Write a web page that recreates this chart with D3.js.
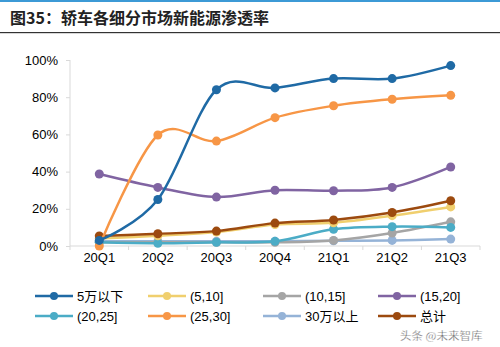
<!DOCTYPE html>
<html><head><meta charset="utf-8">
<script src="https://cdn.jsdelivr.net/npm/d3@7"></script>
<style>body{margin:0;background:#fff}svg{display:block}</style>
</head><body>
<svg id="c" width="500" height="347"></svg>
<script>
const categories = ["20Q1","20Q2","20Q3","20Q4","21Q1","21Q2","21Q3"];
const seriesNames = ["5万以下","(5,10]","(10,15]","(15,20]","(20,25]","(25,30]","30万以上","总计"];
const s_5below = [3, 25, 84, 85, 90, 90, 97];
const s_5_10   = [4, 5.5, 7.5, 11.5, 12.5, 16.3, 21];
const s_10_15  = [2, 2, 2, 2, 3, 7, 13];
const s_15_20  = [38.7, 31.5, 26.3, 30, 29.7, 31.5, 42.5];
const s_20_25  = [2, 1.5, 2, 2.5, 9, 10.4, 10];
const s_25_30  = [0, 59.7, 56.4, 69, 75.4, 78.9, 81];
const s_30up   = [2.5, 2.5, 2.5, 2.5, 2.8, 3, 3.7];
const s_total  = [5.4, 6.6, 8, 12.3, 14, 18, 24.3];
const yTicks = [0, 20, 40, 60, 80, 100];

const colors = ["#1f6aa5","#f0cf6e","#a5a5a5","#8064a2","#4bacc6","#f79646","#95b3d7","#9c4a0f"];
const allSeries = [s_5below, s_5_10, s_10_15, s_15_20, s_20_25, s_25_30, s_30up, s_total];
const drawOrder = [6, 2, 4, 1, 7, 3, 5, 0];

const svg = d3.select("#c");
const font = "Arial, 'Liberation Sans', sans-serif";

// top decoration
svg.append("rect").attr("x",0).attr("y",0).attr("width",500).attr("height",2).attr("fill","#3c9ad6");
svg.append("text").attr("x",10).attr("y",24).attr("font-family","'Noto Sans CJK SC', sans-serif")
  .attr("font-size",16).attr("font-weight","bold").attr("fill","#222")
  .text("图35：轿车各细分市场新能源渗透率");
svg.append("rect").attr("x",0).attr("y",32).attr("width",500).attr("height",1.2).attr("fill","#333");

const x = d3.scalePoint().domain(categories).range([70,480]).padding(0.5);
const xb = d3.scaleBand().domain(categories).range([70,480]);
const y = d3.scaleLinear().domain([0,100]).range([246,60]);

// y axis
const yAxis = svg.append("g").attr("transform","translate(70,0)")
  .call(d3.axisLeft(y).tickValues(yTicks).tickFormat(d=>d+"%").tickSize(4).tickPadding(8));
yAxis.select(".domain").attr("stroke","#d9d9d9").attr("d","M0,60V246");
yAxis.selectAll(".tick line").attr("stroke","#d9d9d9");
yAxis.selectAll("text").attr("font-family",font).attr("font-size",13).attr("fill","#000");

// x axis
const xg = svg.append("g").attr("transform","translate(0,246)");
xg.append("line").attr("x1",70).attr("x2",480).attr("stroke","#d9d9d9");
const bounds = categories.map(c=>xb(c)).concat([480]);
xg.selectAll(".xt").data(bounds).join("line").attr("x1",d=>d).attr("x2",d=>d).attr("y1",0).attr("y2",4).attr("stroke","#d9d9d9");
xg.selectAll(".xl").data(categories).join("text").attr("x",d=>x(d)).attr("y",16)
  .attr("text-anchor","middle").attr("font-family",font).attr("font-size",13).attr("fill","#000").text(d=>d);

const line = d3.line().x((d,i)=>x(categories[i])).y(d=>y(d)).curve(d3.curveCardinal);
drawOrder.forEach(k=>{
  const g = svg.append("g");
  g.append("path").attr("d",line(allSeries[k])).attr("fill","none").attr("stroke",colors[k]).attr("stroke-width",2.5);
  g.selectAll("circle").data(allSeries[k]).join("circle").attr("cx",(d,i)=>x(categories[i])).attr("cy",d=>y(d)).attr("r",4.5).attr("fill",colors[k]);
});

// legend
const colX = [35,148,263,378];
const rowY = [296,316];
seriesNames.forEach((n,k)=>{
  const cx = colX[k%4], cy = rowY[Math.floor(k/4)];
  const g = svg.append("g");
  g.append("line").attr("x1",cx).attr("x2",cx+38).attr("y1",cy).attr("y2",cy).attr("stroke",colors[k]).attr("stroke-width",2.5);
  g.append("circle").attr("cx",cx+19).attr("cy",cy).attr("r",4).attr("fill",colors[k]);
  g.append("text").attr("x",cx+42).attr("y",cy+5).attr("font-family",font+", 'Noto Sans CJK SC'").attr("font-size",13).attr("fill","#000").text(n);
});

// watermark
svg.append("text").attr("x",400).attr("y",340).attr("font-family","'Noto Sans CJK SC', sans-serif").attr("font-size",11.5)
  .attr("fill","#555").attr("stroke","#fff").attr("stroke-width",0.3).text("头条 @未来智库");
</script>
</body></html>
